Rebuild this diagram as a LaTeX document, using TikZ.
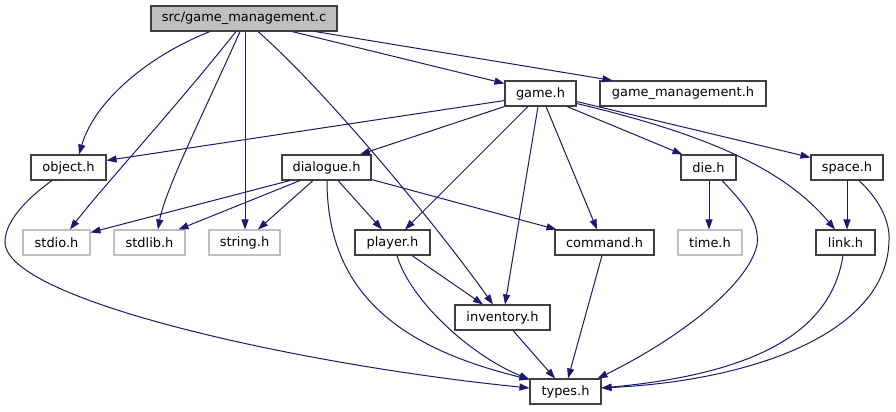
\documentclass[tikz,border=0pt]{standalone}
\usepackage{fontspec}
\setmainfont{DejaVu Sans}
\usetikzlibrary{arrows.meta,calc}
\definecolor{edgec}{HTML}{191970}
\definecolor{grey75}{HTML}{BFBFBF}
\begin{document}
\begin{tikzpicture}[x=0.75pt,y=-0.75pt,
  every node/.style={font=\fontsize{9.7}{11}\selectfont, inner sep=0pt, minimum height=25*0.75pt},
  w/.style={minimum width=#1*0.75pt},
  filebox/.style={draw=black!75, line width=0.8pt, fill=white},
  extbox/.style={draw=grey75, line width=0.8pt, fill=white},
  rootbox/.style={draw=black!75, line width=0.8pt, fill=grey75},
  dep/.style={draw=edgec, line width=0.75pt, -{Triangle[length=7.5pt,width=5.25pt]}}]
\useasboundingbox (0,0) rectangle (896,411);
% nodes
\node[rootbox, w=186] (gmc) at (244,18.5) {src/game\_management.c};
\node[filebox, w=71] (gameh) at (540.5,93.5) {game.h};
\node[filebox, w=166] (gmh) at (683,93.5) {game\_management.h};
\node[filebox, w=75] (object) at (68.5,167.5) {object.h};
\node[filebox, w=89] (dialogue) at (326.5,167.5) {dialogue.h};
\node[filebox, w=55] (die) at (708.5,167.5) {die.h};
\node[filebox, w=72] (space) at (847,167.5) {space.h};
\node[extbox, w=67] (stdio) at (56.5,242.5) {stdio.h};
\node[extbox, w=71] (stdlib) at (149.5,242.5) {stdlib.h};
\node[extbox, w=71] (string) at (244.5,242.5) {string.h};
\node[filebox, w=75] (player) at (392.5,242.5) {player.h};
\node[filebox, w=99] (command) at (604.5,242.5) {command.h};
\node[extbox, w=64] (time) at (710,242.5) {time.h};
\node[filebox, w=59] (link) at (845.5,242.5) {link.h};
\node[filebox, w=95] (inventory) at (502.5,317.5) {inventory.h};
\node[filebox, w=71] (types) at (565.5,391.5) {types.h};
% edges from src/game_management.c
\draw[dep] ($(gmc.south)+(-34,0)$) .. controls (150,55) and (95,100) .. ($(object.north)+(10.5,0)$);
\draw[dep] ($(gmc.south)+(-8,0)$) .. controls (172,112) and (100,190) .. ($(stdio.north)+(13.5,0)$);
\draw[dep] ($(gmc.south)+(-4,0)$) .. controls (205,110) and (165,190) .. ($(stdlib.north)+(8.5,0)$);
\draw[dep] ($(gmc.south)+(1,0)$) -- ($(string.north)+(0.5,0)$);
\draw[dep] ($(gmc.south)+(14,0)$) .. controls (330,95) and (440,230) .. ($(inventory.north)+(-9.5,0)$);
\draw[dep] ($(gmc.south)+(48,0)$) -- ($(gameh.north west)+(0,3)$);
\draw[dep] ($(gmc.south)+(71,0)$) -- ($(gmh.north west)+(13,0)$);
% edges from game.h
\draw[dep] ($(gameh.south west)+(0,-6)$) -- ($(object.north east)+(0,6)$);
\draw[dep] (gameh.south west) -- ($(dialogue.north)+(33.5,0)$);
\draw[dep] ($(gameh.south)+(-12.5,0)$) -- ($(player.north)+(12.5,0)$);
\draw[dep] ($(gameh.south)+(-2.5,0)$) -- ($(inventory.north)+(2.5,0)$);
\draw[dep] ($(gameh.south)+(5.5,0)$) -- ($(command.north)+(-7.5,0)$);
\draw[dep] ($(gameh.south)+(26.5,0)$) -- ($(die.north west)+(2,0)$);
\draw[dep] ($(gameh.east)+(0,10)$) .. controls (710,135) and (785,170) .. ($(link.north)+(-10.5,0)$);
\draw[dep] ($(gameh.east)+(0,8)$) -- ($(space.north west)+(0,3)$);
% edges from dialogue.h
\draw[dep] ($(dialogue.south)+(-36.5,0)$) -- ($(stdio.north east)+(0,3)$);
\draw[dep] ($(dialogue.south)+(-26.5,0)$) -- ($(stdlib.north east)+(-7,0)$);
\draw[dep] ($(dialogue.south)+(-13.5,0)$) -- ($(string.north)+(13.5,0)$);
\draw[dep] ($(dialogue.south)+(11.5,0)$) -- ($(player.north)+(-10.5,0)$);
\draw[dep] ($(dialogue.south east)+(0,-1)$) -- ($(command.north west)+(2,0)$);
\draw[dep] ($(dialogue.south)+(0.5,0)$) .. controls (327,300) and (410,350) .. ($(types.north west)+(0,1)$);
% edges from object.h
\draw[dep] ($(object.south)+(-16.5,0)$) .. controls (25,200) and (5,222) .. (5,242)
  .. controls (5,300) and (300,365) .. ($(types.west)+(0,-3.5)$);
% edges from player.h
\draw[dep] ($(player.south)+(19.5,0)$) -- ($(inventory.north)+(-19.5,0)$);
\draw[dep] ($(player.south)+(4.5,0)$) .. controls (410,300) and (470,355) .. ($(types.north west)+(0,1)$);
% edges from command.h, inventory.h
\draw[dep] ($(command.south)+(-2.5,0)$) -- ($(types.north)+(2.5,0)$);
\draw[dep] ($(inventory.south)+(10.5,0)$) -- ($(types.north)+(-10.5,0)$);
% edges from die.h
\draw[dep] ($(die.south)+(0.5,0)$) -- ($(time.north)+(-1,0)$);
\draw[dep] ($(die.south)+(13.5,0)$) .. controls (745,205) and (760,222) .. (757,245)
  .. controls (748,285) and (680,338) .. ($(types.north east)+(-4,0)$);
% edges from space.h and link.h
\draw[dep] (space.south) -- ($(link.north)+(1.5,0)$);
\draw[dep] ($(space.south)+(12,0)$) .. controls (880,200) and (890,222) .. (889,240)
  .. controls (888,330) and (760,380) .. ($(types.east)+(0,-3.5)$);
\draw[dep] ($(link.south)+(-2.5,0)$) .. controls (830,340) and (740,375) .. ($(types.east)+(0,-3.5)$);
\end{tikzpicture}
\end{document}
